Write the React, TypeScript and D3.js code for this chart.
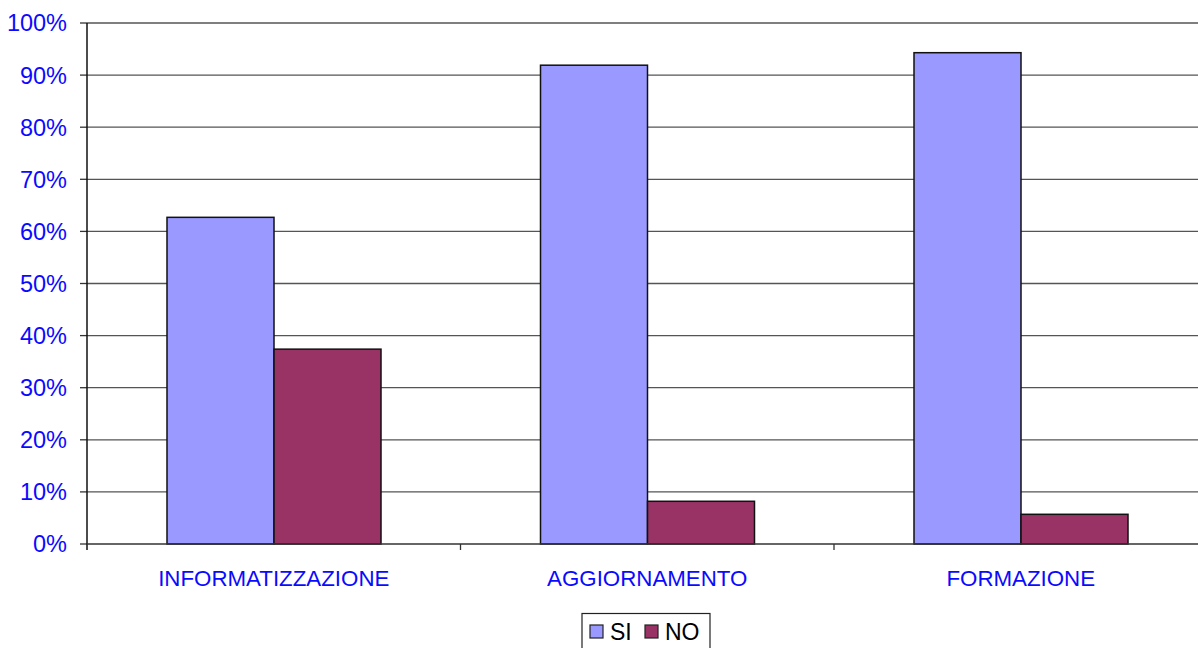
import React from "react";
import * as d3 from "d3";

const categories = ["INFORMATIZZAZIONE", "AGGIORNAMENTO", "FORMAZIONE"];
const seriesNames = ["SI", "NO"];
const siValues = [62.7, 91.9, 94.3];
const noValues = [37.4, 8.2, 5.7];
const yTicks = [0, 10, 20, 30, 40, 50, 60, 70, 80, 90, 100];
const colors = ["#9999FF", "#993366"];

export default function App() {
  const W = 1198, H = 648;
  const left = 87, right = 1207.5, top = 23, bottom = 544;
  const x = d3.scaleBand<string>().domain(categories).range([left, right]).paddingInner(0).paddingOuter(0);
  const inner = d3.scaleBand<string>().domain(seriesNames).range([80, 80 + 214]);
  const y = d3.scaleLinear().domain([0, 100]).range([bottom, top]);
  const series = [siValues, noValues];
  const font = "'Liberation Sans', Arial, sans-serif";

  return (
    <svg width={W} height={H} style={{ position: "absolute", left: 0, top: 0, background: "#fff" }}>
      {yTicks.map((t) => (
        <g key={t}>
          {t > 0 && <line x1={left} x2={W} y1={y(t)} y2={y(t)} stroke="#555" strokeWidth={1.3} />}
          <line x1={left - 7} x2={left} y1={y(t)} y2={y(t)} stroke="#333" strokeWidth={1.3} />
          <text x={67} y={y(t)} dy="0.36em" textAnchor="end" fill="#0a0aff" fontFamily={font} fontSize={23.5}>
            {t}%
          </text>
        </g>
      ))}
      {categories.map((c, i) =>
        series.map((vals, s) => (
          <rect
            key={c + s}
            x={(x(c) as number) + (inner(seriesNames[s]) as number)}
            y={y(vals[i])}
            width={inner.bandwidth()}
            height={bottom - y(vals[i])}
            fill={colors[s]}
            stroke="#111"
            strokeWidth={1.5}
          />
        ))
      )}
      <line x1={left} x2={left} y1={top} y2={bottom + 6} stroke="#111" strokeWidth={1.5} />
      <line x1={left} x2={W} y1={bottom} y2={bottom} stroke="#333" strokeWidth={1.5} />
      {categories.map((c, i) => (
        <g key={c}>
          {i > 0 && <line x1={x(c)} x2={x(c)} y1={bottom} y2={bottom + 6} stroke="#333" strokeWidth={1.3} />}
          <text
            x={(x(c) as number) + x.bandwidth() / 2}
            y={578}
            dy="0.36em"
            textAnchor="middle"
            fill="#0a0aff"
            fontFamily={font}
            fontSize={22.3}
          >
            {c}
          </text>
        </g>
      ))}
      <rect x={582} y={613.5} width={128} height={40} fill="#fff" stroke="#222" strokeWidth={1.2} />
      {seriesNames.map((n, s) => (
        <g key={n} transform={`translate(${590 + s * 55},0)`}>
          <rect x={0} y={625} width={13} height={13} fill={colors[s]} stroke="#222" strokeWidth={1.2} />
          <text x={20} y={632} dy="0.36em" fill="#000" fontFamily={font} fontSize={23}>
            {n}
          </text>
        </g>
      ))}
    </svg>
  );
}
